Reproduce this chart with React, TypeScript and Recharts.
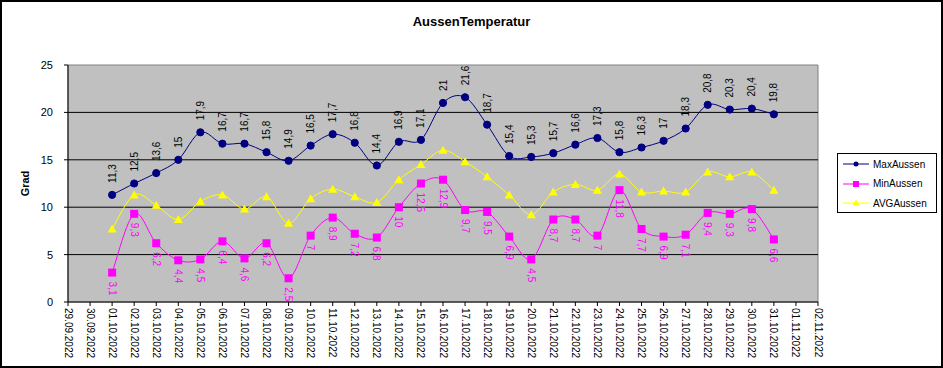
import { CartesianGrid, LabelList, Line, LineChart, ReferenceArea, ReferenceLine, XAxis, YAxis } from "recharts"

// categories: 29.09 .. 02.11, values only for October
const dates = [
    "29.09.2022", "30.09.2022",
    "01.10.2022", "02.10.2022", "03.10.2022", "04.10.2022", "05.10.2022", "06.10.2022", "07.10.2022",
    "08.10.2022", "09.10.2022", "10.10.2022", "11.10.2022", "12.10.2022", "13.10.2022", "14.10.2022",
    "15.10.2022", "16.10.2022", "17.10.2022", "18.10.2022", "19.10.2022", "20.10.2022", "21.10.2022",
    "22.10.2022", "23.10.2022", "24.10.2022", "25.10.2022", "26.10.2022", "27.10.2022", "28.10.2022",
    "29.10.2022", "30.10.2022", "31.10.2022",
    "01.11.2022", "02.11.2022",
]
const firstDataIndex = 2

const maxAussen = [
    11.3, 12.5, 13.6, 15, 17.9, 16.7, 16.7, 15.8, 14.9, 16.5, 17.7, 16.8, 14.4, 16.9, 17.1, 21,
    21.6, 18.7, 15.4, 15.3, 15.7, 16.6, 17.3, 15.8, 16.3, 17, 18.3, 20.8, 20.3, 20.4, 19.8,
]
const minAussen = [
    3.1, 9.3, 6.2, 4.4, 4.5, 6.4, 4.6, 6.2, 2.5, 7, 8.9, 7.2, 6.8, 10, 12.5, 12.9,
    9.7, 9.5, 6.9, 4.5, 8.7, 8.7, 7, 11.8, 7.7, 6.9, 7.1, 9.4, 9.3, 9.8, 6.6,
]
const avgAussen = [
    7.7, 11.3, 10.2, 8.7, 10.6, 11.3, 9.8, 11.1, 8.3, 10.9, 11.9, 11.1, 10.5, 12.9, 14.5, 16,
    14.8, 13.2, 11.3, 9.2, 11.6, 12.4, 11.8, 13.5, 11.6, 11.7, 11.6, 13.7, 13.2, 13.7, 11.8,
]

const yTicks = [0, 5, 10, 15, 20, 25]
const gridValues = [5, 10, 15, 20]

const data = dates.map((date, i) => {
    const k = i - firstDataIndex
    return {
        date,
        max: maxAussen[k] ?? null,
        min: minAussen[k] ?? null,
        avg: avgAussen[k] ?? null,
    }
})

const FONT = "'Liberation Sans', Arial, sans-serif"

// Excel-like smoothed line (Catmull-Rom through the points)
function excelSmooth(context: any) {
    let pts: number[][] = []
    return {
        areaStart() {},
        areaEnd() {},
        lineStart() {
            pts = []
        },
        lineEnd() {
            const n = pts.length
            if (!n) return
            context.moveTo(pts[0][0], pts[0][1])
            for (let i = 0; i < n - 1; i++) {
                const p0 = pts[i === 0 ? 0 : i - 1]
                const p1 = pts[i]
                const p2 = pts[i + 1]
                const p3 = pts[i + 2 < n ? i + 2 : n - 1]
                context.bezierCurveTo(
                    p1[0] + (p2[0] - p0[0]) / 6, p1[1] + (p2[1] - p0[1]) / 6,
                    p2[0] - (p3[0] - p1[0]) / 6, p2[1] - (p3[1] - p1[1]) / 6,
                    p2[0], p2[1],
                )
            }
        },
        point(x: number, y: number) {
            pts.push([+x, +y])
        },
    }
}

const fmt = (v: any) => String(v).replace(".", ",")

const CircleDot = (props: any) => {
    const { cx, cy, value } = props
    if (value == null || cy == null) return <g key={props.key} />
    return <circle key={props.key} cx={cx} cy={cy} r={3.6} fill="#000080" stroke="#000080" />
}
const SquareDot = (props: any) => {
    const { cx, cy, value } = props
    if (value == null || cy == null) return <g key={props.key} />
    return <rect key={props.key} x={cx - 4} y={cy - 4} width={8} height={8} fill="#FF00FF" />
}
const TriangleDot = (props: any) => {
    const { cx, cy, value } = props
    if (value == null || cy == null) return <g key={props.key} />
    return <polygon key={props.key} points={`${cx},${cy - 4.5} ${cx + 4.5},${cy + 3.5} ${cx - 4.5},${cy + 3.5}`} fill="#FFFF00" />
}

const MaxLabel = (props: any) => {
    const { x, y, value } = props
    if (value == null) return null
    return (
        <text transform={`translate(${x},${y - 12}) rotate(-90)`} textAnchor="start" dominantBaseline="central"
            fontSize={10} fontFamily={FONT} fill="#000">
            {fmt(value)}
        </text>
    )
}
const MinLabel = (props: any) => {
    const { x, y, value } = props
    if (value == null) return null
    return (
        <text transform={`translate(${x},${y + 9}) rotate(90)`} textAnchor="start" dominantBaseline="central"
            fontSize={10} fontFamily={FONT} fill="#FF00FF">
            {fmt(value)}
        </text>
    )
}

const DateTick = (props: any) => {
    const { x, y, payload } = props
    return (
        <text transform={`translate(${x},${y}) rotate(90)`} textAnchor="start" dominantBaseline="central"
            fontSize={10} fontFamily={FONT} fill="#000">
            {payload.value}
        </text>
    )
}

const legendItems = [
    { name: "MaxAussen", color: "#000080", shape: "circle" },
    { name: "MinAussen", color: "#FF00FF", shape: "square" },
    { name: "AVGAussen", color: "#FFFF00", shape: "triangle" },
]

function LegendBox() {
    return (
        <div style={{
            position: "absolute", left: 837, top: 153, width: 100, height: 60, boxSizing: "border-box",
            border: "1px solid #000", background: "#fff", fontFamily: FONT, fontSize: 10,
        }}>
            {legendItems.map((it, i) => (
                <div key={it.name} style={{ position: "absolute", left: 4, top: 3 + i * 19.5, height: 14, display: "flex", alignItems: "center" }}>
                    <svg width={28} height={14}>
                        <line x1={1} y1={7} x2={27} y2={7} stroke={it.color} strokeWidth={1} />
                        {it.shape === "circle" && <circle cx={14} cy={7} r={2.5} fill={it.color} />}
                        {it.shape === "square" && <rect x={11} y={4} width={6} height={6} fill={it.color} />}
                        {it.shape === "triangle" && <polygon points="14,3.5 17.5,9.5 10.5,9.5" fill={it.color} />}
                    </svg>
                    <span style={{ marginLeft: 3, color: "#000" }}>{it.name}</span>
                </div>
            ))}
        </div>
    )
}

export default function App() {
    return (
        <div style={{ position: "absolute", left: 0, top: 0, width: 943, height: 368, background: "#fff" }}>
            <LineChart width={943} height={368} data={data} margin={{ top: 65, right: 125, left: 0, bottom: 0 }}>
                <ReferenceArea x1={dates[0]} x2={dates[dates.length - 1]} y1={0} y2={25} fill="#C0C0C0" fillOpacity={1}
                    stroke="#808080" strokeWidth={1} ifOverflow="visible" />
                <CartesianGrid horizontal={false} vertical={false} />
                {gridValues.map((v) => (
                    <ReferenceLine key={v} y={v} stroke="#000" strokeWidth={1} />
                ))}
                <XAxis
                    dataKey="date"
                    scale="point"
                    padding={{ left: 0, right: 0 }}
                    interval={0}
                    height={66}
                    tickSize={4}
                    tickMargin={2}
                    stroke="#000"
                    tick={<DateTick />}
                />
                <YAxis
                    domain={[0, 25]}
                    ticks={yTicks}
                    width={68}
                    tickSize={4}
                    tickMargin={11}
                    stroke="#000"
                    tick={{ fill: "#000", fontSize: 11, fontFamily: FONT }}
                    label={(p: any) => {
                        const vb = p.viewBox
                        const cy = vb.y + vb.height / 2
                        return (
                            <text transform={`translate(25,${cy}) rotate(-90)`} textAnchor="middle" dominantBaseline="central"
                                fontSize={11} fontWeight="bold" fontFamily={FONT} fill="#000">
                                Grad
                            </text>
                        )
                    }}
                />
                <Line type={excelSmooth as any} dataKey="avg" name="AVGAussen" stroke="#FFFF00" strokeWidth={1}
                    dot={<TriangleDot />} activeDot={false} isAnimationActive={false} connectNulls={false} />
                <Line type={excelSmooth as any} dataKey="min" name="MinAussen" stroke="#FF00FF" strokeWidth={1}
                    dot={<SquareDot />} activeDot={false} isAnimationActive={false} connectNulls={false}>
                    <LabelList dataKey="min" content={<MinLabel />} />
                </Line>
                <Line type={excelSmooth as any} dataKey="max" name="MaxAussen" stroke="#000080" strokeWidth={1}
                    dot={<CircleDot />} activeDot={false} isAnimationActive={false} connectNulls={false}>
                    <LabelList dataKey="max" content={<MaxLabel />} />
                </Line>
            </LineChart>
            <div style={{
                position: "absolute", left: 0, top: 14, width: 943, textAlign: "center",
                fontFamily: FONT, fontWeight: "bold", fontSize: 13, color: "#000",
            }}>
                AussenTemperatur
            </div>
            <LegendBox />
            <div style={{
                position: "absolute", left: 0, top: 0, width: 943, height: 368, boxSizing: "border-box",
                border: "2px solid #000", pointerEvents: "none", zIndex: 10,
            }} />
        </div>
    )
}
